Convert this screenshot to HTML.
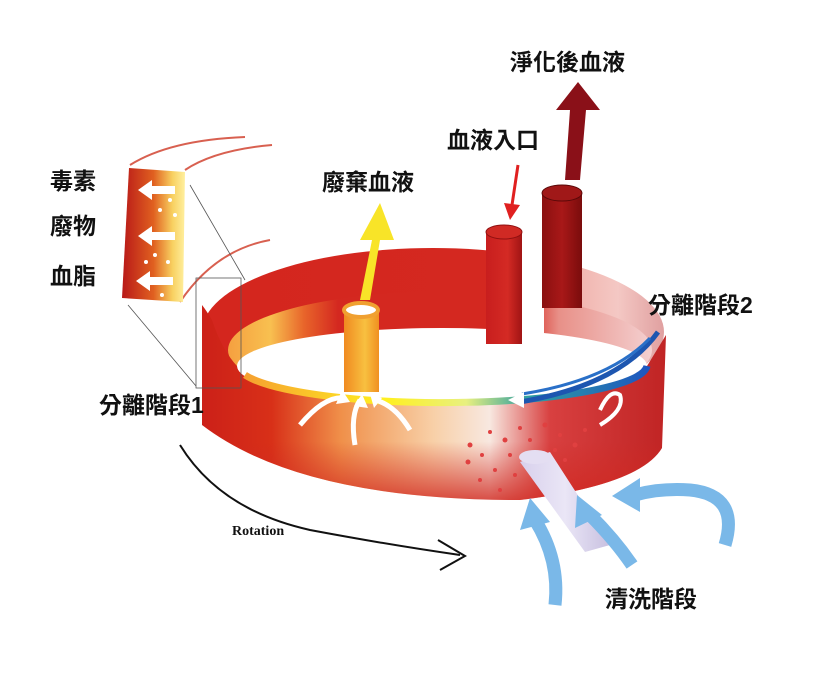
<!DOCTYPE html>
<html><head><meta charset="utf-8">
<style>
html,body{margin:0;padding:0;background:#fff;}
svg{display:block}
.t{font-family:"Liberation Sans","Noto Sans CJK TC",sans-serif;font-weight:bold;fill:#111;font-size:23px}
</style></head>
<body>
<svg width="833" height="678" viewBox="0 0 833 678" xmlns="http://www.w3.org/2000/svg">
<defs>
<linearGradient id="back" x1="0" x2="1" y1="0" y2="0">
<stop offset="0" stop-color="#d4261e"/><stop offset="0.65" stop-color="#d42820"/>
<stop offset="0.75" stop-color="#f0a8a0"/><stop offset="0.9" stop-color="#f4c8c4"/><stop offset="1" stop-color="#e0a0a0"/></linearGradient>
<linearGradient id="inner" x1="0" x2="1" y1="0" y2="0">
<stop offset="0" stop-color="#f5a040"/><stop offset="0.1" stop-color="#f8c050"/><stop offset="0.18" stop-color="#e8642a"/>
<stop offset="0.26" stop-color="#d42820"/><stop offset="0.7" stop-color="#d42820"/><stop offset="0.78" stop-color="#e89088"/><stop offset="1" stop-color="#f4d0d0"/></linearGradient>
<linearGradient id="front" x1="0" x2="1" y1="0" y2="0">
<stop offset="0" stop-color="#cc2018"/><stop offset="0.15" stop-color="#d83018"/><stop offset="0.3" stop-color="#f0904a"/>
<stop offset="0.5" stop-color="#f8d0a8"/><stop offset="0.62" stop-color="#f8e8e0"/><stop offset="0.75" stop-color="#d84040"/><stop offset="1" stop-color="#c02424"/></linearGradient>
<linearGradient id="frontv" x1="0" x2="0" y1="0" y2="1">
<stop offset="0" stop-color="#fff" stop-opacity="0"/><stop offset="0.7" stop-color="#d02820" stop-opacity="0"/><stop offset="1" stop-color="#d02820" stop-opacity="0.8"/></linearGradient>
<linearGradient id="rim" x1="0" x2="1" y1="0" y2="0">
<stop offset="0" stop-color="#f6a030"/><stop offset="0.35" stop-color="#fff020"/><stop offset="0.55" stop-color="#e8f080"/>
<stop offset="0.7" stop-color="#30a0a0"/><stop offset="1" stop-color="#1d56c0"/></linearGradient>
<linearGradient id="yel" x1="0" x2="1"><stop offset="0" stop-color="#f08a20"/><stop offset="0.6" stop-color="#f8c040"/><stop offset="1" stop-color="#f09020"/></linearGradient>
<linearGradient id="dred" x1="0" x2="1"><stop offset="0" stop-color="#c81e1e"/><stop offset="0.6" stop-color="#d42a24"/><stop offset="1" stop-color="#a01414"/></linearGradient>
<linearGradient id="dred2" x1="0" x2="1"><stop offset="0" stop-color="#8a1010"/><stop offset="0.5" stop-color="#a81818"/><stop offset="1" stop-color="#7a0c0c"/></linearGradient>
<linearGradient id="panel" x1="0" x2="1"><stop offset="0" stop-color="#b81818"/><stop offset="0.5" stop-color="#e06020"/><stop offset="0.8" stop-color="#f8d060"/><stop offset="1" stop-color="#fff0a0"/></linearGradient>
<linearGradient id="pipe" x1="0" x2="1"><stop offset="0" stop-color="#d8d0ec"/><stop offset="0.5" stop-color="#eae6f6"/><stop offset="1" stop-color="#c8c0e0"/></linearGradient>
</defs>

<ellipse cx="433" cy="332" rx="231" ry="84" fill="url(#back)"/>
<ellipse cx="440" cy="350" rx="212" ry="58" fill="url(#inner)"/>
<ellipse cx="442" cy="366" rx="205" ry="38" fill="#fff"/>
<polygon points="520,235 544,235 544,340 520,345" fill="#fff"/>
<path d="M202,305 L202,425 Q300,500 520,500 Q640,485 662,448 L666,335 L647,366 A205,38 0 0 1 237,366 Q222,350 212,320 Q206,310 202,305 Z" fill="url(#front)"/>
<path d="M202,305 L202,425 Q300,500 520,500 Q640,485 662,448 L666,335 L647,366 A205,38 0 0 1 237,366 Q222,350 212,320 Q206,310 202,305 Z" fill="url(#frontv)"/>
<path d="M245,375 A205,38 0 0 0 647,366" fill="none" stroke="url(#rim)" stroke-width="7"/>

<path d="M658,332 Q620,385 520,402" stroke="#1d56b0" stroke-width="5" fill="none"/>
<path d="M650,338 Q610,380 522,394" stroke="#2a70c8" stroke-width="3" fill="none"/>
<polygon points="508,400 524,392 524,408" fill="#fff"/>
<path d="M600,410 Q610,388 620,395 Q625,410 600,425" fill="none" stroke="#fff" stroke-width="4"/>
<g fill="none" stroke="#fff" stroke-width="5">
<path d="M300,425 Q325,395 345,398"/><path d="M355,445 Q350,415 360,400"/><path d="M410,430 Q395,405 375,400"/></g>
<g fill="#fff"><polygon points="342,390 350,402 336,404"/><polygon points="362,394 368,408 354,406"/><polygon points="370,394 382,398 374,408"/></g>

<g fill="#e04040">
<circle cx="470" cy="445" r="2.5"/><circle cx="482" cy="455" r="2"/><circle cx="468" cy="462" r="2.5"/><circle cx="490" cy="432" r="2"/>
<circle cx="505" cy="440" r="2.5"/><circle cx="520" cy="428" r="2"/><circle cx="530" cy="440" r="2"/><circle cx="545" cy="425" r="2.5"/>
<circle cx="560" cy="435" r="2"/><circle cx="575" cy="445" r="2.5"/><circle cx="495" cy="470" r="2"/><circle cx="480" cy="480" r="2"/>
<circle cx="510" cy="455" r="2"/><circle cx="555" cy="450" r="2"/><circle cx="500" cy="490" r="2"/><circle cx="585" cy="430" r="2"/>
<circle cx="540" cy="455" r="2"/><circle cx="515" cy="475" r="2"/><circle cx="565" cy="460" r="2"/></g>

<rect x="344" y="310" width="35" height="82" fill="url(#yel)"/>
<ellipse cx="361" cy="310" rx="17" ry="7" fill="#fff" stroke="#f0a030" stroke-width="4"/>
<polygon points="370,300 380,240 394,240 380,203 360,240 372,240 360,300" fill="#f8e428"/>

<rect x="486" y="232" width="36" height="112" fill="url(#dred)"/>
<ellipse cx="504" cy="232" rx="18" ry="7" fill="#d02a24" stroke="#901010"/>
<line x1="518" y1="165" x2="512" y2="205" stroke="#e02020" stroke-width="3"/>
<polygon points="504,203 520,205 510,220" fill="#e02020"/>
<rect x="542" y="193" width="40" height="115" fill="url(#dred2)"/>
<ellipse cx="562" cy="193" rx="20" ry="8" fill="#a01818" stroke="#5a0808"/>
<polygon points="565,180 570,110 556,110 578,82 600,110 586,110 580,180" fill="#8a1018"/>

<polygon points="520,462 550,452 610,545 585,552" fill="url(#pipe)"/>
<ellipse cx="535" cy="457" rx="16" ry="7" fill="#e4def2"/>

<g fill="none" stroke="#7ab8e8" stroke-width="13">
<path d="M555,605 Q560,560 535,520"/>
<path d="M632,565 Q615,540 590,515"/>
<path d="M725,545 Q740,495 690,490 Q660,488 635,495"/>
</g>
<g fill="#7ab8e8">
<polygon points="530,498 520,530 550,522"/>
<polygon points="577,495 575,528 602,515"/>
<polygon points="612,496 640,478 640,512"/>
</g>

<path d="M130,165 Q170,140 245,137" fill="none" stroke="#d86050" stroke-width="2"/>
<path d="M185,170 Q215,150 272,145" fill="none" stroke="#d86050" stroke-width="2"/>
<path d="M180,302 Q215,250 270,240" fill="none" stroke="#d86050" stroke-width="2"/>
<polygon points="129,168 185,172 183,302 122,298" fill="url(#panel)"/>
<g fill="#fff">
<polygon points="138,190 152,180 152,186 175,186 175,194 152,194 152,200"/>
<polygon points="138,236 152,226 152,232 175,232 175,240 152,240 152,246"/>
<polygon points="136,281 150,271 150,277 173,277 173,285 150,285 150,291"/>
<circle cx="170" cy="200" r="2"/><circle cx="160" cy="210" r="2"/><circle cx="175" cy="215" r="2"/><circle cx="155" cy="255" r="2"/>
<circle cx="168" cy="262" r="2"/><circle cx="146" cy="262" r="2"/><circle cx="162" cy="295" r="2"/>
</g>
<line x1="190" y1="185" x2="245" y2="280" stroke="#555" stroke-width="0.8"/>
<line x1="128" y1="305" x2="196" y2="386" stroke="#555" stroke-width="0.8"/>
<rect x="196" y="278" width="45" height="110" fill="none" stroke="#555" stroke-width="0.8"/>

<path d="M180,445 Q220,510 310,530 Q390,545 460,555" fill="none" stroke="#111" stroke-width="2"/>
<path d="M438,540 L465,556 L440,570" fill="none" stroke="#111" stroke-width="2"/>
<text x="232" y="535" font-family="Liberation Serif,serif" font-size="14" font-weight="bold" fill="#111">Rotation</text>

<text class="t" x="510" y="70">淨化後血液</text>
<text class="t" x="447" y="148">血液入口</text>
<text class="t" x="322" y="190">廢棄血液</text>
<text class="t" x="50" y="189">毒素</text>
<text class="t" x="50" y="234">廢物</text>
<text class="t" x="50" y="284">血脂</text>
<text class="t" x="99" y="413">分離階段1</text>
<text class="t" x="648" y="313">分離階段2</text>
<text class="t" x="605" y="607">清洗階段</text>
</svg>
</body></html>
